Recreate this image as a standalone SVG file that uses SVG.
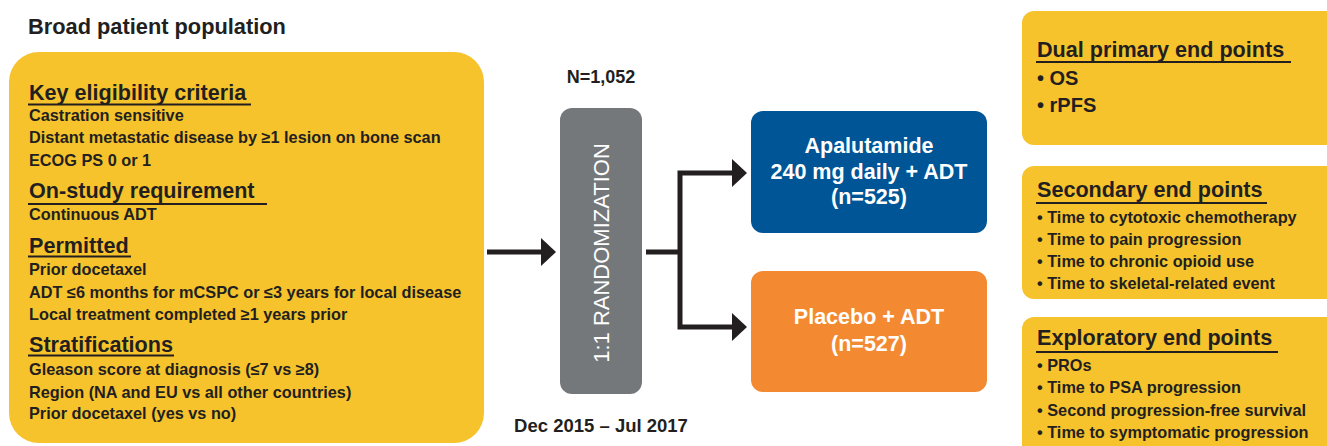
<svg xmlns="http://www.w3.org/2000/svg" width="1327" height="446" viewBox="0 0 1327 446">
<defs>
<style>
text{font-family:"Liberation Sans",Arial,sans-serif;font-weight:bold;fill:#231f20}
.title{font-size:21.8px}
.hd{font-size:21.6px}
.it{font-size:16.3px}
.big{font-size:20px}
.w{fill:#ffffff;font-size:21.5px;text-anchor:middle}
.ul{stroke:#231f20;stroke-width:1.8}
.yb{fill:#f6c32c}
.conn{stroke:#231f20;stroke-width:5;fill:none}
.head{fill:#231f20}
</style>
</defs>
<rect width="1327" height="446" fill="#ffffff"/>
<text class="title" x="28" y="34">Broad patient population</text>

<g id="eligibility">
<rect class="yb" x="9" y="52" width="475" height="391" rx="30"/>
<text class="hd" x="29" y="100">Key eligibility criteria</text>
<line class="ul" x1="28" y1="104.5" x2="251" y2="104.5"/>
<text class="it" x="29" y="121">Castration sensitive</text>
<text class="it" x="29" y="143">Distant metastatic disease by ≥1 lesion on bone scan</text>
<text class="it" x="29" y="166">ECOG PS 0 or 1</text>
<text class="hd" x="29" y="198">On-study requirement</text>
<line class="ul" x1="28" y1="204" x2="267" y2="204"/>
<text class="it" x="29" y="220">Continuous ADT</text>
<text class="hd" x="29" y="253">Permitted</text>
<line class="ul" x1="28" y1="256.5" x2="131" y2="256.5"/>
<text class="it" x="29" y="275">Prior docetaxel</text>
<text class="it" x="29" y="298">ADT ≤6 months for mCSPC or ≤3 years for local disease</text>
<text class="it" x="29" y="320">Local treatment completed ≥1 years prior</text>
<text class="hd" x="29" y="352">Stratifications</text>
<line class="ul" x1="28" y1="355.5" x2="174" y2="355.5"/>
<text class="it" x="29" y="375">Gleason score at diagnosis (≤7 vs ≥8)</text>
<text class="it" x="29" y="398">Region (NA and EU vs all other countries)</text>
<text class="it" x="29" y="419">Prior docetaxel (yes vs no)</text>
</g>

<g id="randomization">
<text x="601" y="83" font-size="18" text-anchor="middle">N=1,052</text>
<rect x="560" y="108" width="82" height="286" rx="12" fill="#75787b"/>
<text transform="translate(609,253) rotate(-90)" text-anchor="middle" style="font-weight:normal;fill:#ffffff;font-size:22px">1:1 RANDOMIZATION</text>
<text x="601" y="432" font-size="18.5" text-anchor="middle">Dec 2015 – Jul 2017</text>
</g>

<g id="apalutamide">
<rect x="751" y="111" width="236" height="122" rx="12" fill="#005596"/>
<text class="w" x="869" y="153">Apalutamide</text>
<text class="w" x="869" y="179">240 mg daily + ADT</text>
<text class="w" x="869" y="204">(n=525)</text>
</g>

<g id="placebo">
<rect x="751" y="271" width="236" height="121" rx="12" fill="#f38a32"/>
<text class="w" x="869" y="324">Placebo + ADT</text>
<text class="w" x="869" y="351">(n=527)</text>
</g>

<g id="connectors">
<line class="conn" x1="487" y1="252" x2="542" y2="252"/>
<path class="head" d="M541,238 L556,252 L541,266 Z"/>
<polyline class="conn" points="646,252 680,252"/>
<polyline class="conn" points="733,173 680,173 680,327 733,327"/>
<path class="head" d="M732,159 L747,173 L732,187 Z"/>
<path class="head" d="M732,313 L747,327 L732,341 Z"/>
</g>

<g id="primary">
<rect class="yb" x="1022" y="11" width="330" height="134" rx="12"/>
<text class="hd" x="1037" y="57">Dual primary end points</text>
<line class="ul" x1="1036" y1="62" x2="1291" y2="62"/>
<text class="big" x="1037" y="85">• OS</text>
<text class="big" x="1037" y="112">• rPFS</text>
</g>

<g id="secondary">
<rect class="yb" x="1022" y="166" width="330" height="133" rx="12"/>
<text class="hd" x="1037" y="197">Secondary end points</text>
<line class="ul" x1="1036" y1="203" x2="1267" y2="203"/>
<text class="it" x="1037" y="223">• Time to cytotoxic chemotherapy</text>
<text class="it" x="1037" y="245">• Time to pain progression</text>
<text class="it" x="1037" y="267">• Time to chronic opioid use</text>
<text class="it" x="1037" y="289">• Time to skeletal-related event</text>
</g>

<g id="exploratory">
<rect class="yb" x="1022" y="317" width="330" height="160" rx="12"/>
<text class="hd" x="1037" y="345">Exploratory end points</text>
<line class="ul" x1="1036" y1="352" x2="1278" y2="352"/>
<text class="it" x="1037" y="371">• PROs</text>
<text class="it" x="1037" y="393">• Time to PSA progression</text>
<text class="it" x="1037" y="416">• Second progression-free survival</text>
<text class="it" x="1037" y="438">• Time to symptomatic progression</text>
</g>
</svg>
